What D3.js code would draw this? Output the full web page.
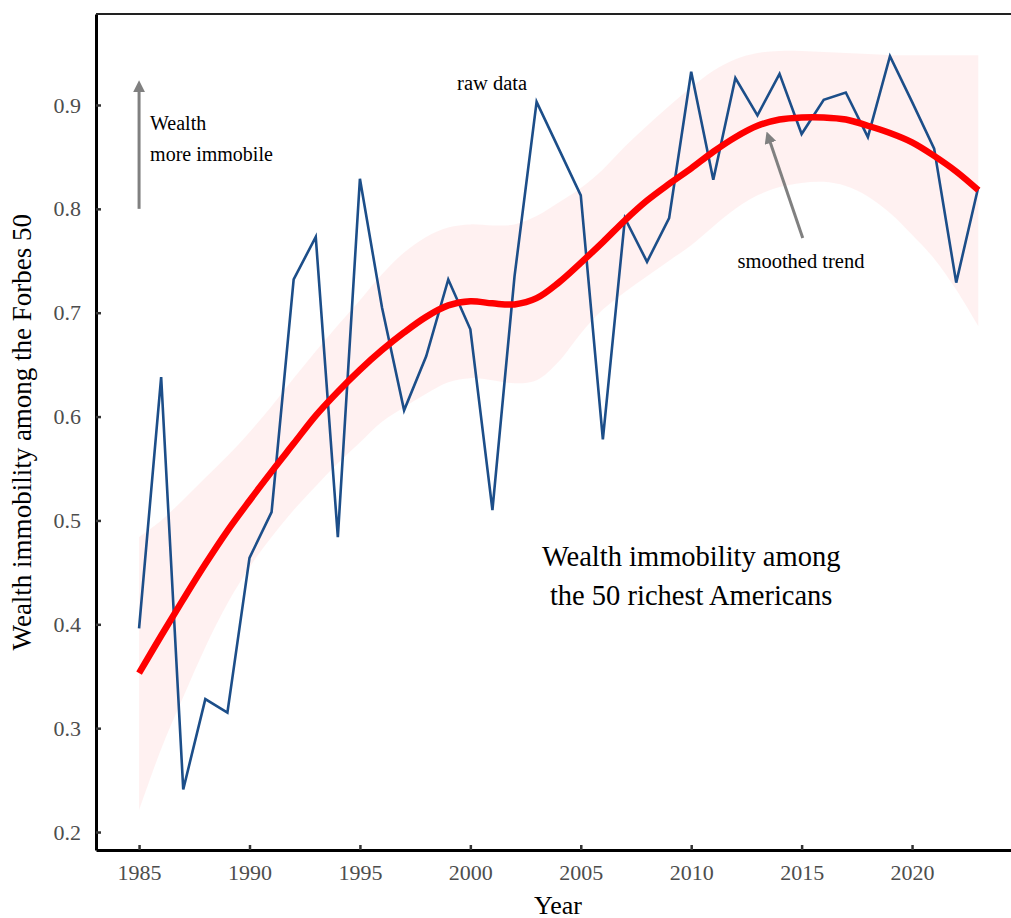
<!DOCTYPE html>
<html>
<head>
<meta charset="utf-8">
<script src="https://cdn.jsdelivr.net/npm/d3@7"></script>
<style>
  html, body { margin: 0; padding: 0; background: #fff; }
  svg { display: block; }
  text { font-family: "Liberation Serif", "DejaVu Serif", serif; }
</style>
</head>
<body>
<svg id="chart" width="1011" height="918"></svg>
<script>
const years = d3.range(1985, 2024);
const rawValues = [
  0.396, 0.638, 0.241, 0.328, 0.315, 0.464, 0.508, 0.732, 0.773, 0.484,
  0.829, 0.705, 0.606, 0.658, 0.732, 0.684, 0.510, 0.735, 0.903, 0.858,
  0.813, 0.578, 0.791, 0.749, 0.791, 0.932, 0.828, 0.926, 0.890, 0.930,
  0.872, 0.905, 0.912, 0.869, 0.947, 0.903, 0.858, 0.729, 0.821
];
const trendValues = [
  0.353, 0.389, 0.424, 0.458, 0.490, 0.519, 0.547, 0.574, 0.601, 0.624,
  0.645, 0.664, 0.681, 0.696, 0.707, 0.711, 0.709, 0.708, 0.714, 0.729,
  0.748, 0.768, 0.789, 0.808, 0.824, 0.839, 0.855, 0.869, 0.880, 0.886,
  0.888, 0.888, 0.886, 0.880, 0.873, 0.864, 0.851, 0.836, 0.818
];
const upperValues = [
  0.484, 0.500, 0.520, 0.541, 0.562, 0.585, 0.610, 0.637, 0.663, 0.688,
  0.712, 0.737, 0.758, 0.773, 0.782, 0.785, 0.784, 0.785, 0.793, 0.806,
  0.820, 0.838, 0.860, 0.880, 0.899, 0.917, 0.933, 0.944, 0.950, 0.952,
  0.952, 0.951, 0.950, 0.949, 0.948, 0.948, 0.948, 0.948, 0.948
];
const lowerValues = [
  0.221, 0.280, 0.330, 0.378, 0.420, 0.455, 0.484, 0.510, 0.533, 0.555,
  0.575, 0.595, 0.609, 0.622, 0.633, 0.637, 0.635, 0.632, 0.635, 0.653,
  0.680, 0.703, 0.720, 0.735, 0.750, 0.765, 0.783, 0.800, 0.813, 0.821,
  0.825, 0.826, 0.822, 0.812, 0.796, 0.775, 0.752, 0.722, 0.687
];
const xTicks = [1985, 1990, 1995, 2000, 2005, 2010, 2015, 2020];
const yTicks = [0.2, 0.3, 0.4, 0.5, 0.6, 0.7, 0.8, 0.9];

const svg = d3.select("#chart");
const margin = {left: 96, top: 14, right: 0, bottom: 68};
const W = 1011, H = 918;
const plotW = W - margin.left - margin.right;
const plotH = H - margin.top - margin.bottom;

const x = d3.scaleLinear().domain([1983.05, 2024.48]).range([margin.left, margin.left + plotW]);
const y = d3.scaleLinear().domain([0.1827, 0.9876]).range([margin.top + plotH, margin.top]);

const data = years.map((yr, i) => ({
  year: yr, raw: rawValues[i], trend: trendValues[i], lo: lowerValues[i], hi: upperValues[i]
}));

// CI band
const area = d3.area().x(d => x(d.year)).y0(d => y(d.lo)).y1(d => y(d.hi)).curve(d3.curveCatmullRom);
svg.append("path").datum(data).attr("d", area).attr("fill", "#ffeeee").attr("opacity", 0.85);

// raw data line
const rawLine = d3.line().x(d => x(d.year)).y(d => y(d.raw));
svg.append("path").datum(data).attr("d", rawLine)
  .attr("fill", "none").attr("stroke", "#1c4e89").attr("stroke-width", 2.6)
  .attr("stroke-linejoin", "miter");

// trend line
const trendLine = d3.line().x(d => x(d.year)).y(d => y(d.trend)).curve(d3.curveCatmullRom);
svg.append("path").datum(data).attr("d", trendLine)
  .attr("fill", "none").attr("stroke", "#ff0000").attr("stroke-width", 6.5);

// axes
const xAxis = d3.axisBottom(x).tickValues(xTicks).tickFormat(d3.format("d")).tickSizeInner(-5).tickSizeOuter(0).tickPadding(14);
const gx = svg.append("g").attr("transform", `translate(0,${margin.top + plotH})`).call(xAxis);
gx.select(".domain").attr("stroke", "#000").attr("stroke-width", 3);
gx.selectAll(".tick line").attr("stroke", "#333").attr("stroke-width", 2.5);
gx.selectAll(".tick text").attr("fill", "#4d4d4d").style("font-size", "22px");

const yAxis = d3.axisLeft(y).tickValues(yTicks).tickFormat(d3.format(".1f")).tickSizeInner(-5).tickSizeOuter(0).tickPadding(15);
const gy = svg.append("g").attr("transform", `translate(${margin.left},0)`).call(yAxis);
gy.select(".domain").attr("stroke", "#000").attr("stroke-width", 3);
gy.selectAll(".tick line").attr("stroke", "#333").attr("stroke-width", 2.5);
gy.selectAll(".tick text").attr("fill", "#4d4d4d").style("font-size", "22px");

// top border
svg.append("line").attr("x1", margin.left).attr("x2", W).attr("y1", margin.top).attr("y2", margin.top)
  .attr("stroke", "#222").attr("stroke-width", 2);

// axis titles
svg.append("text").attr("x", x(2003.97)).attr("y", 914).attr("text-anchor", "middle")
  .style("font-size", "26px").attr("fill", "#000").text("Year");
svg.append("text").attr("transform", `translate(31,${y(0.585)}) rotate(-90)`).attr("text-anchor", "middle")
  .style("font-size", "27px").attr("fill", "#000").text("Wealth immobility among the Forbes 50");

// annotations
const defs = svg.append("defs");
defs.append("marker").attr("id", "ah").attr("viewBox", "0 0 10 10").attr("refX", 5).attr("refY", 5)
  .attr("markerWidth", 4).attr("markerHeight", 4).attr("orient", "auto-start-reverse")
  .append("path").attr("d", "M0,0 L10,5 L0,10 Z").attr("fill", "#808080");

svg.append("line").attr("x1", x(1985)).attr("y1", y(0.8)).attr("x2", x(1985)).attr("y2", y(0.918))
  .attr("stroke", "#808080").attr("stroke-width", 3).attr("marker-end", "url(#ah)");
svg.append("line").attr("x1", x(2015.05)).attr("y1", y(0.772)).attr("x2", x(2013.5)).attr("y2", y(0.869))
  .attr("stroke", "#808080").attr("stroke-width", 3).attr("marker-end", "url(#ah)");

svg.append("text").attr("x", x(1985.5)).attr("y", y(0.876)).style("font-size", "20px").text("Wealth");
svg.append("text").attr("x", x(1985.5)).attr("y", y(0.846)).style("font-size", "20px").text("more immobile");

svg.append("text").attr("x", x(2000.985)).attr("y", y(0.914)).attr("text-anchor", "middle")
  .style("font-size", "20.5px").text("raw data");
svg.append("text").attr("x", x(2014.97)).attr("y", y(0.743)).attr("text-anchor", "middle")
  .style("font-size", "20.5px").text("smoothed trend");

svg.append("text").attr("x", x(2010.0)).attr("y", y(0.456)).attr("text-anchor", "middle")
  .style("font-size", "28.5px").text("Wealth immobility among");
svg.append("text").attr("x", x(2010.0)).attr("y", y(0.4185)).attr("text-anchor", "middle")
  .style("font-size", "28.5px").text("the 50 richest Americans");
</script>
</body>
</html>
